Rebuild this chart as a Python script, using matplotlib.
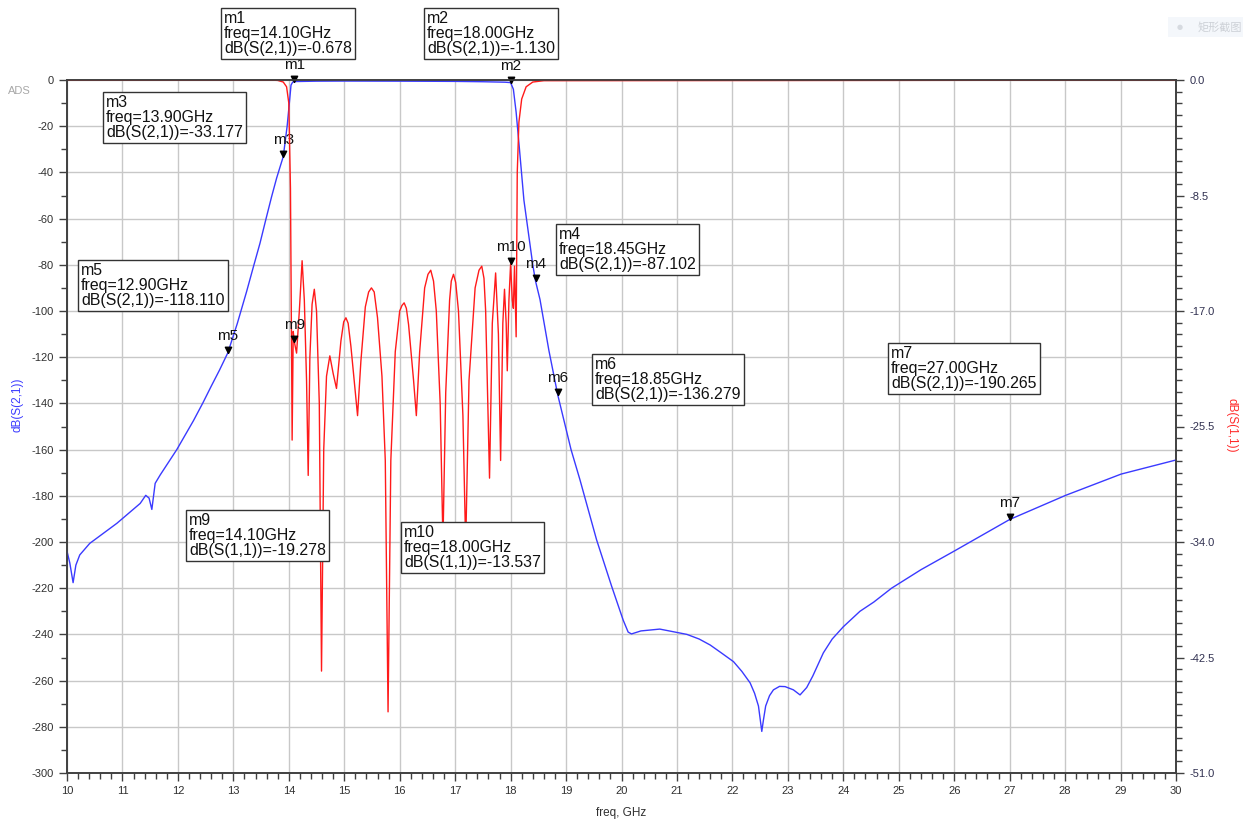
import numpy as np
import matplotlib
matplotlib.use('Agg')
import matplotlib.pyplot as plt
import matplotlib.ticker as tick
from matplotlib.patches import Rectangle

plt.rcParams['axes.unicode_minus'] = False

# dB(S(2,1)), left axis
s21_freq = [10.00, 10.05, 10.11, 10.16, 10.23, 10.41, 10.90, 11.32, 11.42, 11.48,
            11.53, 11.59, 11.68, 11.98, 12.28, 12.45, 12.60, 12.75, 12.90, 13.07,
            13.24, 13.36, 13.48, 13.59, 13.69, 13.78, 13.84, 13.90, 13.97, 14.01,
            14.04, 14.07, 14.10, 14.50, 15.00, 16.00, 17.00, 17.50, 17.90, 18.00,
            18.05, 18.10, 18.16, 18.24, 18.40, 18.45, 18.53, 18.69, 18.85, 19.09,
            19.25, 19.55, 19.82, 20.03, 20.12, 20.18, 20.35, 20.69, 21.18, 21.40,
            21.60, 21.80, 22.02, 22.17, 22.32, 22.40, 22.47, 22.53, 22.56, 22.60,
            22.67, 22.74, 22.85, 22.95, 23.10, 23.22, 23.34, 23.45, 23.64, 23.80,
            24.00, 24.30, 24.55, 24.87, 25.40, 26.01, 27.00, 28.01, 29.01, 30.00]
s21_db = [-204.0, -209.0, -217.6, -210.0, -205.6, -200.6, -191.9, -183.3, -179.8, -181.0,
          -185.9, -174.6, -171.0, -160.0, -147.5, -139.8, -132.6, -125.6, -118.11, -105.5,
          -91.5, -81.0, -70.7, -60.0, -50.5, -42.5, -37.8, -33.177, -20.0, -10.0,
          -2.2, -0.9, -0.678, -0.5, -0.45, -0.5, -0.6, -0.75, -0.95, -1.13,
          -4.0, -14.0, -30.0, -52.0, -80.0, -87.102, -95.0, -117.0, -136.279, -160.0,
          -173.0, -199.0, -219.0, -233.8, -239.0, -239.8, -238.5, -237.7, -240.0, -242.0,
          -244.6, -248.0, -251.8, -256.0, -261.0, -265.5, -271.0, -282.0, -277.0, -271.0,
          -266.5, -264.0, -262.5, -262.6, -264.0, -266.2, -263.0, -258.0, -248.0, -242.0,
          -236.7, -230.0, -226.0, -220.0, -212.0, -203.8, -190.265, -179.8, -170.6, -164.5]

# dB(S(1,1)), right axis
s11_freq = [10.00, 13.70, 13.80, 13.90, 13.96, 14.00, 14.03, 14.05, 14.06, 14.08,
            14.10, 14.14, 14.19, 14.24, 14.28, 14.32, 14.35, 14.38, 14.42, 14.46,
            14.50, 14.55, 14.59, 14.63, 14.68, 14.74, 14.80, 14.86, 14.94, 14.99,
            15.03, 15.07, 15.12, 15.20, 15.24, 15.30, 15.38, 15.44, 15.49, 15.54,
            15.60, 15.68, 15.74, 15.79, 15.84, 15.92, 16.00, 16.04, 16.08, 16.12,
            16.16, 16.25, 16.30, 16.36, 16.45, 16.51, 16.56, 16.61, 16.66, 16.73,
            16.78, 16.83, 16.90, 16.93, 16.97, 17.01, 17.06, 17.14, 17.19, 17.25,
            17.36, 17.43, 17.48, 17.52, 17.55, 17.62, 17.67, 17.73, 17.78, 17.82,
            17.86, 17.89, 17.92, 17.94, 17.97, 18.00, 18.03, 18.05, 18.07, 18.10,
            18.12, 18.15, 18.20, 18.28, 18.40, 18.60, 30.00]
s11_db = [-0.01, -0.01, -0.03, -0.15, -0.5, -1.7, -8.0, -20.0, -26.5, -18.5,
          -19.278, -20.1, -17.0, -13.3, -16.2, -22.1, -29.1, -20.4, -16.5, -15.4,
          -17.0, -23.8, -43.5, -27.2, -21.8, -20.3, -21.6, -22.7, -19.2, -17.8,
          -17.5, -17.9, -19.6, -23.0, -24.7, -20.7, -16.7, -15.6, -15.3, -15.6,
          -17.5, -21.8, -28.0, -46.5, -28.0, -20.0, -17.0, -16.6, -16.4, -16.8,
          -18.0, -22.1, -24.7, -20.0, -15.3, -14.3, -14.0, -14.8, -17.0, -23.8,
          -34.0, -23.0, -16.2, -14.8, -14.3, -14.9, -17.0, -24.7, -34.3, -22.1,
          -15.3, -14.0, -13.7, -14.6, -17.0, -29.3, -17.9, -14.2, -18.7, -28.0,
          -17.9, -15.4, -17.9, -21.4, -16.2, -13.537, -16.2, -16.8, -13.7, -18.9,
          -6.8, -3.1, -1.4, -0.5, -0.15, -0.05, -0.01]

# marker readouts: name, trace, freq (GHz), value (dB)
marker_names = ['m1', 'm2', 'm3', 'm4', 'm5', 'm6', 'm7', 'm9', 'm10']
marker_trace = ['S(2,1)', 'S(2,1)', 'S(2,1)', 'S(2,1)', 'S(2,1)', 'S(2,1)', 'S(2,1)',
                'S(1,1)', 'S(1,1)']
marker_freq = [14.10, 18.00, 13.90, 18.45, 12.90, 18.85, 27.00, 14.10, 18.00]
marker_value = [-0.678, -1.130, -33.177, -87.102, -118.110, -136.279, -190.265,
                -19.278, -13.537]

# top-left corner of each readout box, in figure pixels
box_pos = {'m1': (221, 8), 'm2': (424, 8), 'm3': (103, 92), 'm4': (556, 224),
           'm5': (78, 260), 'm6': (592, 354), 'm7': (888, 343), 'm9': (186, 510),
           'm10': (401, 522)}

W, H = 1243, 823
LABEL_FONT = ['Liberation Sans Narrow', 'Liberation Sans', 'DejaVu Sans']
BOX_FONT = ['Liberation Sans', 'DejaVu Sans']
AX_COLOR = '#404040'


def px(x, y):
    # figure pixel (from top-left) -> figure fraction
    return x / W, 1 - y / H


def style_axis(a):
    for s in a.spines.values():
        s.set_color(AX_COLOR)
        s.set_linewidth(1.2)
    a.tick_params(which='major', direction='out', length=6, width=1, color=AX_COLOR,
                  labelsize=8, labelcolor='#303030')
    a.tick_params(which='minor', direction='out', length=4, width=1, color=AX_COLOR)
    for lab in a.get_xticklabels() + a.get_yticklabels():
        lab.set_family(LABEL_FONT)


fig = plt.figure(figsize=(W / 100, H / 100), dpi=100)
fig.patch.set_facecolor('white')

ax = fig.add_axes([67 / W, 1 - 773 / H, 1109 / W, 693 / H])
ax2 = ax.twinx()

ax.set_xlim(10, 30)
ax.set_ylim(-300, 0)
ax2.set_ylim(-51, 0)

ax.xaxis.set_major_locator(tick.MultipleLocator(1))
ax.xaxis.set_minor_locator(tick.MultipleLocator(0.2))
ax.yaxis.set_major_locator(tick.MultipleLocator(20))
ax.yaxis.set_minor_locator(tick.MultipleLocator(10))
ax2.yaxis.set_major_locator(tick.MultipleLocator(8.5))
ax2.yaxis.set_minor_locator(tick.MultipleLocator(0.85))
ax2.yaxis.set_major_formatter(tick.FormatStrFormatter('%.1f'))

ax.grid(which='major', color='#c8c8c8', linewidth=1)
ax.set_axisbelow(True)

ax.plot(s21_freq, s21_db, color='#3a3aff', linewidth=1.0, zorder=3)
ax2.plot(s11_freq, s11_db, color='#ff1a1a', linewidth=1.0, zorder=2)

style_axis(ax)
style_axis(ax2)
ax2.tick_params(axis='y', labelcolor='#303050')

# markers: triangle with its tip on the trace
tri = [(0, 0), (-0.55, 1.1), (0.55, 1.1), (0, 0)]
for name, trace, f, v in zip(marker_names, marker_trace, marker_freq, marker_value):
    a = ax if trace == 'S(2,1)' else ax2
    a.plot([f], [v], marker=tri, markersize=9, color='black', linestyle='none',
           zorder=6, clip_on=False)
    a.annotate(name, (f, v), xytext=(0, 10), textcoords='offset pixels',
               ha='center', va='bottom', fontsize=11, family=BOX_FONT,
               color='#111111', zorder=7, annotation_clip=False)
    bx, by = box_pos[name]
    txt = '%s\nfreq=%.2fGHz\ndB(%s)=%.3f' % (name, f, trace, v)
    fx, fy = px(bx + 3, by + 3)
    fig.text(fx, fy, txt, ha='left', va='top', fontsize=11.4, family=BOX_FONT,
             color='#111111', linespacing=1.0, zorder=10,
             bbox=dict(boxstyle='square,pad=0.2', facecolor='white',
                       edgecolor='#333333', linewidth=1))

# axis titles
fx, fy = px(18, 405)
fig.text(fx, fy, 'dB(S(2,1))', rotation=90, ha='center', va='center',
         fontsize=8.5, color='#3a3aff', family=LABEL_FONT)
fx, fy = px(1232, 425)
fig.text(fx, fy, 'dB(S(1,1))', rotation=270, ha='center', va='center',
         fontsize=8.5, color='#ff2a2a', family=LABEL_FONT)
fx, fy = px(621, 813)
fig.text(fx, fy, 'freq, GHz', ha='center', va='center', fontsize=8.5,
         color='#303030', family=LABEL_FONT)
fx, fy = px(8, 91)
fig.text(fx, fy, 'ADS', ha='left', va='center', fontsize=8, color='#a8a8a8',
         family=LABEL_FONT)

# faint screenshot-tool button in the top right corner
fig.patches.append(Rectangle(px(1168, 37), 75 / W, 20 / H, transform=fig.transFigure,
                             facecolor='#f4f7fb', edgecolor='none', zorder=0))
fx, fy = px(1180, 27)
fig.text(fx, fy, '\u25cf', ha='center', va='center', fontsize=5, color='#d6dae0')
fx, fy = px(1198, 27)
fig.text(fx, fy, '矩形截图', ha='left', va='center', fontsize=8, color='#cdd1d7',
         family=['Noto Sans CJK SC', 'DejaVu Sans'])

fig.savefig('out.png', dpi=100)
